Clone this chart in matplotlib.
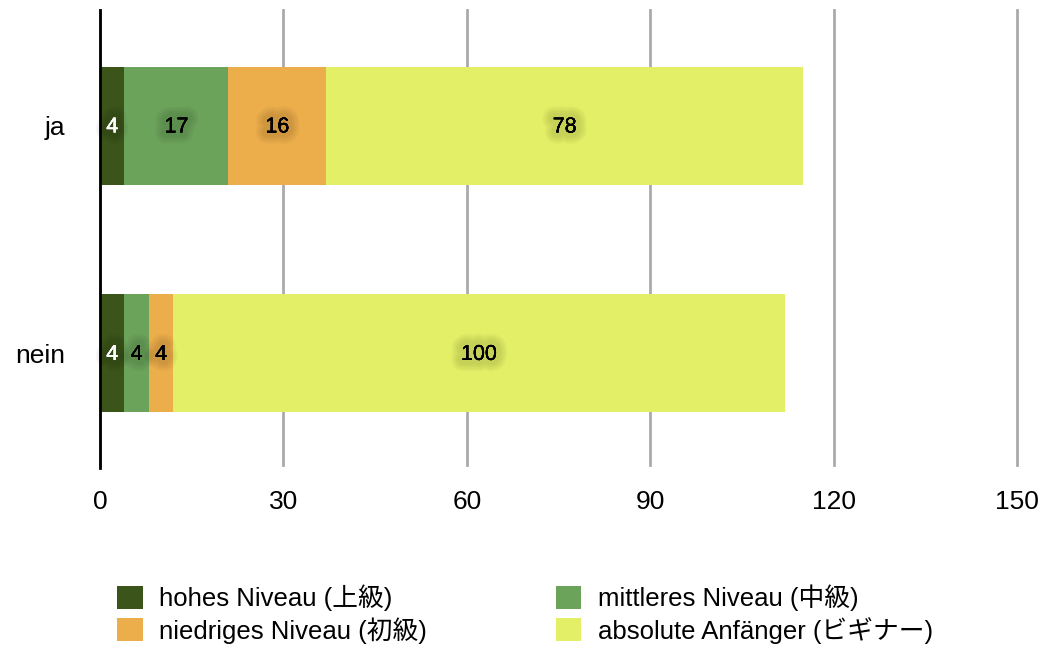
import matplotlib
matplotlib.use("Agg")
import matplotlib.pyplot as plt
import matplotlib.patheffects as pe
from matplotlib.patches import Patch

plt.rcParams['font.family'] = ['Liberation Sans', 'Noto Sans CJK JP', 'DejaVu Sans']

categories = ["ja", "nein"]
series_names = ["hohes Niveau (上級)", "mittleres Niveau (中級)",
                "niedriges Niveau (初級)", "absolute Anfänger (ビギナー)"]
hohes = [4, 4]
mittleres = [17, 4]
niedriges = [16, 4]
anfaenger = [78, 100]
series_values = [hohes, mittleres, niedriges, anfaenger]
colors = ["#3a5419", "#6ca35a", "#ecae4b", "#e3ef66"]
label_colors = ["white", "black", "black", "black"]
xticks = [0, 30, 60, 90, 120, 150]

fig = plt.figure(figsize=(10.45, 6.46), dpi=100)
ax = fig.add_axes([0.0957, 0.2802, 0.8775, 0.7043])

ypos = list(range(len(categories)))
left = [0] * len(categories)
for vals, col, lc in zip(series_values, colors, label_colors):
    bars = ax.barh(ypos, vals, left=left, height=0.52, color=col, zorder=3)
    for b, v in zip(bars, vals):
        cx = b.get_x() + b.get_width() / 2
        cy = b.get_y() + b.get_height() / 2
        effects = [pe.withStroke(linewidth=w, foreground="black", alpha=0.03)
                   for w in (16, 13, 10, 7)]
        effects.append(pe.Normal())
        ax.text(cx, cy + 0.005, str(v), ha="center", va="center", fontsize=15.5,
                color=lc, zorder=5, path_effects=effects)
    left = [l + v for l, v in zip(left, vals)]

ax.set_xlim(0, 150)
ax.set_ylim(1.491, -0.509)
ax.set_xticks(xticks)
ax.set_xticklabels([str(t) for t in xticks], fontsize=19)
ax.set_yticks(ypos)
ax.set_yticklabels(categories, fontsize=19)
ax.tick_params(axis="both", length=0)
ax.tick_params(axis="x", pad=18)
ax.tick_params(axis="y", pad=25)
ax.xaxis.grid(True, color="#aaaaaa", linewidth=2, zorder=0)
for gl in ax.get_xgridlines():
    gl.set_clip_on(False)
ax.set_axisbelow(True)
for s in ["top", "right", "bottom"]:
    ax.spines[s].set_visible(False)
ax.spines["left"].set_linewidth(2)
ax.spines["left"].set_color("black")
ax.spines["left"].set_zorder(6)
ax.spines["left"].set_bounds(1.506, -0.509)

handles = [Patch(facecolor=c, edgecolor="none") for c in colors]
order = [0, 2, 1, 3]
fig.legend([handles[i] for i in order], [series_names[i] for i in order],
           loc="upper left", bbox_to_anchor=(0.112, 0.095), ncol=2, frameon=False,
           fontsize=18.5, handlelength=1.0, handleheight=1.0, handletextpad=0.65,
           columnspacing=5.0, labelspacing=0.22, borderaxespad=0, borderpad=0)

fig.savefig("out.png", dpi=100)
